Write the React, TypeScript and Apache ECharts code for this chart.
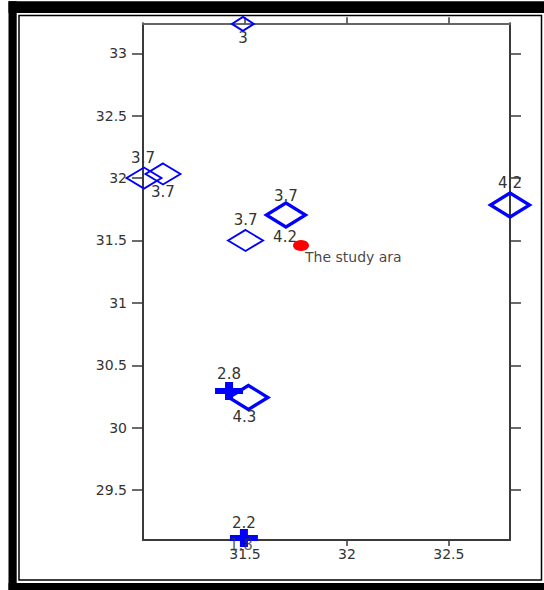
import React, { useEffect, useRef } from 'react';
import * as echarts from 'echarts';

// Axis ranges and ticks
const xRange = [31.0, 32.8];
const yRange = [29.1, 33.24];
const xTicks = [31.5, 32, 32.5];
const yTicks = [29.5, 30, 30.5, 31, 31.5, 32, 32.5, 33];

// Thin-outline diamonds (lon, lat, magnitude)
const thinLon = [31.49, 31.005, 31.098, 31.503];
const thinLat = [33.235, 32.0, 32.033, 31.5];
const thinMag = ['3', '3.7', '3.7', '3.7'];

// Bold-outline diamonds
const boldLon = [31.701, 32.8, 31.517];
const boldLat = [31.704, 31.784, 30.242];
const boldMag = ['3.7', '4.2', '4.3'];

// Cross markers
const crossLon = [31.422, 31.495];
const crossLat = [30.294, 29.116];
const crossMag = ['2.8', '2.2'];

// Study area point
const studyLon = [31.775];
const studyLat = [31.46];
const studyMag = ['4.2'];

// Extra text labels attached to points
const extraLon = [31.495, 31.775];
const extraLat = [29.116, 31.46];
const extraText = ['1.8', 'The study ara'];

// ---- styles / label layout (not data) ----
const thinSizes = [[22, 14], [35, 21], [35, 21], [35, 21]];
const thinShift = [[0, 14], [-1, -20], [0, 18], [0, -20]];
const boldShift = [[0, -19], [0, -22], [-4, 20]];
const crossShift = [[0, -17], [0, -15]];
const studyShift = [[-16, -8.5]];
const extraShift = [[-3, 7], [4, 11.5]];
const extraAlign = ['center', 'left'];

const BLUE = '#0000ff';
const FONT = 'DejaVu Sans';
const crossPath = 'path://M10,0 H18 V6 H28 V12 H18 V18 H10 V12 H0 V6 H10 Z';

const baseLabel = {
  show: true,
  position: 'inside' as const,
  color: '#333',
  fontFamily: FONT,
  fontSize: 15,
  formatter: (p: any) => p.value[2],
};

function App() {
  const ref = useRef<HTMLDivElement>(null);
  useEffect(() => {
    const chart = echarts.init(ref.current!, null, { renderer: 'svg' });

    const axisLineStyle = { color: '#3a3a3a', width: 2 };
    const option: any = {
      animation: false,
      backgroundColor: '#ffffff',
      grid: { left: 143, right: 34, top: 23.3, bottom: 50 },
      xAxis: [
        {
          type: 'value', position: 'bottom', min: xRange[0], max: xRange[1],
          axisLine: { show: true, onZero: false, lineStyle: axisLineStyle },
          axisTick: { show: true, length: 6, customValues: xTicks, lineStyle: { color: '#3a3a3a', width: 1.5 } },
          axisLabel: { customValues: xTicks, margin: 7, color: '#333', fontFamily: FONT, fontSize: 14 },
          splitLine: { show: false },
        },
        {
          type: 'value', position: 'top', min: xRange[0], max: xRange[1],
          axisLine: { show: true, onZero: false, lineStyle: { color: '#666', width: 2 } },
          axisTick: { show: true, length: 6, customValues: xTicks, lineStyle: { color: '#3a3a3a', width: 1.5 } },
          axisLabel: { show: false },
          splitLine: { show: false },
        },
      ],
      yAxis: [
        {
          type: 'value', position: 'left', min: yRange[0], max: yRange[1],
          axisLine: { show: true, onZero: false, lineStyle: axisLineStyle },
          axisTick: { show: true, length: 11, customValues: yTicks, lineStyle: { color: '#3a3a3a', width: 1.5 } },
          axisLabel: { customValues: yTicks, margin: 16, color: '#333', fontFamily: FONT, fontSize: 14 },
          splitLine: { show: false },
        },
        {
          type: 'value', position: 'right', min: yRange[0], max: yRange[1],
          axisLine: { show: true, onZero: false, lineStyle: axisLineStyle },
          axisTick: { show: true, length: 11, customValues: yTicks, lineStyle: { color: '#3a3a3a', width: 1.5 } },
          axisLabel: { show: false },
          splitLine: { show: false },
        },
      ],
      graphic: [
        // thick outer frame
        { type: 'rect', shape: { x: 8.5, y: 1.3, width: 536, height: 11.7 }, style: { fill: '#000' }, silent: true },
        { type: 'rect', shape: { x: 8.5, y: 1.3, width: 8.2, height: 589 }, style: { fill: '#000' }, silent: true },
        { type: 'rect', shape: { x: 8.5, y: 583, width: 536, height: 7 }, style: { fill: '#000' }, silent: true },
        // thin inner frame line
        { type: 'rect', shape: { x: 19, y: 15.5, width: 522.5, height: 564.5 }, style: { fill: 'none', stroke: '#000', lineWidth: 1.5 }, silent: true },
      ],
      series: [
        {
          type: 'scatter', name: 'thin', clip: false, z: 3,
          symbol: 'diamond',
          itemStyle: { color: 'rgba(0,0,0,0)', borderColor: BLUE, borderWidth: 2, opacity: 1 },
          label: baseLabel,
          data: thinLon.map((lon, i) => ({
            value: [lon, thinLat[i], thinMag[i]],
            symbolSize: thinSizes[i],
            label: { offset: thinShift[i] },
          })),
        },
        {
          type: 'scatter', name: 'bold', clip: false, z: 3,
          symbol: 'diamond', symbolSize: [39, 24],
          itemStyle: { color: 'rgba(0,0,0,0)', borderColor: BLUE, borderWidth: 3.5, opacity: 1 },
          label: baseLabel,
          data: boldLon.map((lon, i) => ({
            value: [lon, boldLat[i], boldMag[i]],
            label: { offset: boldShift[i] },
          })),
        },
        {
          type: 'scatter', name: 'cross', clip: false, z: 4,
          symbol: crossPath, symbolSize: [28, 18],
          itemStyle: { color: BLUE, opacity: 1 },
          label: baseLabel,
          data: crossLon.map((lon, i) => ({
            value: [lon, crossLat[i], crossMag[i]],
            label: { offset: crossShift[i] },
          })),
        },
        {
          type: 'scatter', name: 'study', clip: false, z: 4,
          symbol: 'circle', symbolSize: [16, 11],
          itemStyle: { color: '#ff0000', opacity: 1 },
          label: baseLabel,
          data: studyLon.map((lon, i) => ({
            value: [lon, studyLat[i], studyMag[i]],
            label: { offset: studyShift[i] },
          })),
        },
        {
          type: 'scatter', name: 'notes', clip: false, z: 5,
          symbol: 'circle', symbolSize: 1,
          itemStyle: { color: 'rgba(0,0,0,0)' },
          label: baseLabel,
          data: extraLon.map((lon, i) => ({
            value: [lon, extraLat[i], extraText[i]],
            label: i === 1
              ? { offset: extraShift[i], align: extraAlign[i], color: '#111', fontSize: 14 }
              : { offset: extraShift[i], align: extraAlign[i] },
          })),
        },
      ],
    };
    chart.setOption(option);
    return () => chart.dispose();
  }, []);

  return (
    <div
      ref={ref}
      style={{ position: 'fixed', left: 0, top: 0, width: 544, height: 590, background: '#ffffff' }}
    />
  );
}

export default App;
